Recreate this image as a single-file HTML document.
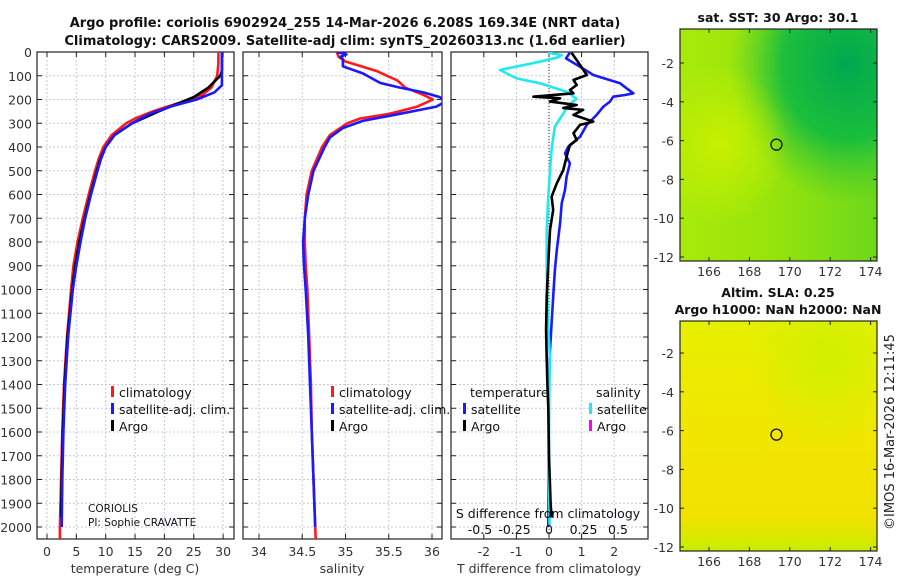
<!DOCTYPE html>
<html><head><meta charset="utf-8"><style>
body{margin:0;background:#fff;}
svg{display:block;font-family:"DejaVu Sans","Liberation Sans",sans-serif;}
</style></head><body>
<svg id="fig" width="900" height="580" viewBox="0 0 900 580" xmlns="http://www.w3.org/2000/svg">
<defs>
<linearGradient id="sstBase" x1="0" y1="0" x2="1" y2="0"><stop offset="0" stop-color="#a8ea0a"/><stop offset="0.45" stop-color="#98e40c"/><stop offset="1" stop-color="#6cd81a"/></linearGradient>
<radialGradient id="sstDark" cx="0.85" cy="0.15" r="0.6"><stop offset="0" stop-color="#00a850"/><stop offset="0.55" stop-color="#10bb40" stop-opacity="0.9"/><stop offset="1" stop-color="#40c830" stop-opacity="0"/></radialGradient>
<radialGradient id="sstYel" cx="0.2" cy="0.5" r="0.35"><stop offset="0" stop-color="#c8f000"/><stop offset="1" stop-color="#c8f000" stop-opacity="0"/></radialGradient>
<linearGradient id="slaBase" x1="0" y1="0" x2="0" y2="1"><stop offset="0" stop-color="#e6f000"/><stop offset="0.35" stop-color="#f0e800"/><stop offset="0.85" stop-color="#f2e200"/><stop offset="1" stop-color="#c8ec00"/></linearGradient>
<radialGradient id="slaGreen" cx="0.75" cy="0.15" r="0.4"><stop offset="0" stop-color="#d0f000"/><stop offset="1" stop-color="#d0f000" stop-opacity="0"/></radialGradient>
<clipPath id="cp1"><rect x="37" y="52" width="197" height="487"/></clipPath>
<clipPath id="cp2"><rect x="243" y="52" width="199" height="487"/></clipPath>
<clipPath id="cp3"><rect x="451" y="52" width="197" height="487"/></clipPath>
</defs>
<g font-weight="bold" font-size="13" text-anchor="middle" fill="#111">
<text x="345" y="27">Argo profile: coriolis 6902924_255 14-Mar-2026 6.208S 169.34E (NRT data)</text>
<text x="345" y="45">Climatology: CARS2009. Satellite-adj clim: synTS_20260313.nc (1.6d earlier)</text>
</g>
<g id="plots"></g>
</svg>
<script>
// ---------- data ----------
const tempClimDepth=[0,50,100,150,180,200,230,250,280,300,350,400,450,500,600,700,800,900,1000,1200,1400,1600,1800,2000,2050];
const tempClim=[29.2,29.2,29.0,28.0,26.5,24.5,20.5,18,15,13.5,11,9.6,8.8,8.2,7.1,6.1,5.2,4.5,4.1,3.4,2.9,2.6,2.4,2.2,2.2];
const tempSatDepth=[0,100,140,170,200,230,260,300,350,400,450,500,600,700,800,900,1000,1200,1400,1600,1800,2000];
const tempSat=[29.8,29.8,29.8,28.5,25.5,21,17.5,14.5,11.5,10,9.2,8.6,7.5,6.5,5.7,5.0,4.4,3.6,3.1,2.8,2.6,2.5];
const tempArgoDepth=[0,80,100,150,190,200,250,300,350,400,450,500,600,700,800,900,1000,1200,1400,1600,1800,1960];
const tempArgo=[29.8,29.8,29.5,27.5,25,24,19,14.5,11.5,10,9.1,8.5,7.4,6.4,5.5,4.8,4.3,3.5,3.0,2.7,2.5,2.4];
const salClimDepth=[0,20,40,80,120,150,180,200,230,260,280,300,350,400,500,600,700,800,900,1000,1200,1400,1600,1800,2000,2050];
const salClim=[34.90,34.92,35.0,35.36,35.6,35.69,35.9,36.01,35.83,35.51,35.17,35.02,34.82,34.73,34.61,34.55,34.53,34.53,34.54,34.56,34.58,34.60,34.61,34.63,34.65,34.655];
const salSatDepth=[0,10,20,30,60,90,130,150,170,190,210,230,260,290,320,360,400,500,600,700,800,900,1000,1200,1400,1600,1800,2000];
const salSat=[34.9,35.01,34.94,34.97,34.97,35.2,35.4,35.63,35.9,36.09,36.15,36.05,35.63,35.2,34.97,34.82,34.76,34.63,34.57,34.53,34.51,34.52,34.54,34.57,34.59,34.61,34.63,34.65];
const tdSatDepth=[3,27,62,97,132,153,174,181,188,209,230,265,307,357,399,427,469,525,581,637,721,834,918,1030,1142,1255,1400,1600,1800,2000];
const tdSat=[0.64,0.52,0.95,1.36,2.18,2.38,2.59,2.33,1.97,1.87,1.67,1.46,1.16,0.95,0.59,0.49,0.64,0.54,0.49,0.39,0.34,0.24,0.18,0.13,0.08,0.03,0.0,-0.01,-0.01,-0.02];
const sdSatDepth=[3,13,22,41,76,111,132,167,198,223,258,314,399,497,609,749,890,1030,1170,1288,1500,1700,1900,1990];
const sdSat=[-0.005,0.092,0.068,-0.065,-0.355,-0.234,-0.065,0.128,0.2,0.14,0.104,0.043,0.02,0.007,-0.005,-0.017,-0.017,-0.012,-0.005,0.007,0.0,0.0,0.002,0.004];
const tdArgoDepth=[3,34,97,118,139,160,174,188,195,209,223,236,244,265,293,307,342,371,392,441,497,553,609,665,749,890,1030,1170,1288,1400,1500,1700,1900,1960];
const tdArgo=[0.69,0.85,1.16,0.75,0.85,0.64,0.75,-0.48,0.34,0.03,0.85,0.44,1.05,0.75,1.36,0.95,0.75,0.85,0.64,0.54,0.44,0.24,0.08,0.13,0.03,-0.02,-0.07,-0.09,-0.07,-0.05,-0.02,0.0,0.05,0.08];
const depthTicks=[0,100,200,300,400,500,600,700,800,900,1000,1100,1200,1300,1400,1500,1600,1700,1800,1900,2000];
const tempTicks=[0,5,10,15,20,25,30];
const salTicks=[34,34.5,35,35.5,36];
const salTickLabels=["34","34.5","35","35.5","36"];
const tdTicks=[-2,-1,0,1,2];
const sdTicks=[-0.5,-0.25,0,0.25,0.5];
const sdTickLabels=["-0.5","-0.25","0","0.25","0.5"];
const lonTicks=[166,168,170,172,174];
const latTicks=[-2,-4,-6,-8,-10,-12];
const argoLon=169.34, argoLat=-6.208;

// ---------- axes ----------
const TOP=52,BOT=539;
const yD=d=>TOP+d*0.2375;
const xT=v=>47+v*5.87;
const xS=v=>259+(v-34)*86.5;
const xTD=v=>549+v*32.6;
const xSD=v=>549+v*138;
const mxLon=v=>709+(v-166)*20.2;
const myLat1=v=>63+(-2-v)*19.4;
const myLat2=v=>353+(-2-v)*19.4;

const NS="http://www.w3.org/2000/svg";
const root=document.getElementById('plots');
function el(tag,attrs,parent,txt){const e=document.createElementNS(NS,tag);for(const k in attrs)e.setAttribute(k,attrs[k]);if(txt!==undefined)e.textContent=txt;(parent||root).appendChild(e);return e;}

function panel(name,x0,x1,ticks,xf,labels,clip){
  const g=el('g',{});
  
  
  ticks.forEach(t=>{el('line',{x1:xf(t),x2:xf(t),y1:TOP,y2:BOT,stroke:'#c4c8e6','stroke-width':1,'stroke-dasharray':'2,2'},g);});
  depthTicks.forEach(d=>{el('line',{x1:x0,x2:x1,y1:yD(d),y2:yD(d),stroke:'#c4c8e6','stroke-width':1,'stroke-dasharray':'2,2'},g);
    el('line',{x1:x0,x2:x0+5,y1:yD(d),y2:yD(d),stroke:'#222'},g);el('line',{x1:x1-5,x2:x1,y1:yD(d),y2:yD(d),stroke:'#222'},g);});
  ticks.forEach((t,i)=>{el('line',{x1:xf(t),x2:xf(t),y1:BOT-5,y2:BOT,stroke:'#222'},g);el('line',{x1:xf(t),x2:xf(t),y1:TOP,y2:TOP+5,stroke:'#222'},g);
    const lb=el('text',{x:xf(t),y:556,'font-size':12.5,'text-anchor':'middle',fill:'#333'},g,labels?labels[i]:String(t));
    
    
  });
  el('rect',{x:x0,y:TOP,width:x1-x0,height:BOT-TOP,fill:'none',stroke:'#222','stroke-width':1.2},g);
  const lg=el('g',{'clip-path':'url(#'+clip+')'},g);
  return lg;
}
function line(g,xs,ds,xf,color,name,w){
  const p=el('polyline',{points:xs.map((v,i)=>xf(v).toFixed(1)+','+yD(ds[i]).toFixed(1)).join(' '),fill:'none',stroke:color,'stroke-width':w||2.6,'stroke-linejoin':'round'},g);
  
  
}
function legend(x,y,color,txt,name){
  const g=el('g',{});
  
  
  el('rect',{x:x,y:y-11,width:3,height:11,fill:color},g);
  el('text',{x:x+8,y:y,'font-size':12.5,fill:'#111'},g,txt);
}

depthTicks.forEach(d=>{const t=el('text',{x:32,y:yD(d)+5,'font-size':12.5,'text-anchor':'end',fill:'#333'},root,String(d));
  
  });

const g1=panel('temperature-panel',37,234,tempTicks,xT,null,'cp1');
line(g1,tempClim,tempClimDepth,xT,'#ff1a1a','temp-climatology-line');
line(g1,tempArgo,tempArgoDepth,xT,'#000','temp-argo-line');
line(g1,tempSat,tempSatDepth,xT,'#1a1aff','temp-satellite-line');
el('text',{x:135,y:573,'font-size':12.5,'text-anchor':'middle',fill:'#333'},root,'temperature (deg C)');
legend(111,397,'#ff1a1a','climatology','legend-climatology-temp');
legend(111,414,'#1a1aff','satellite-adj. clim.','legend-satellite-temp');
legend(111,431,'#000','Argo','legend-argo-temp');
el('text',{x:88,y:512,'font-size':10.5,fill:'#111'},root,'CORIOLIS');
el('text',{x:88,y:526,'font-size':10.5,fill:'#111'},root,'PI: Sophie CRAVATTE');

const g2=panel('salinity-panel',243,442,salTicks,xS,salTickLabels,'cp2');
line(g2,salClim,salClimDepth,xS,'#ff1a1a','sal-climatology-line');
line(g2,salSat,salSatDepth,xS,'#1a1aff','sal-satellite-line');
el('text',{x:342,y:573,'font-size':12.5,'text-anchor':'middle',fill:'#333'},root,'salinity');
legend(331,397,'#ff1a1a','climatology','legend-climatology-sal');
legend(331,414,'#1a1aff','satellite-adj. clim.','legend-satellite-sal');
legend(331,431,'#000','Argo','legend-argo-sal');

const g3=panel('difference-panel',451,648,tdTicks,xTD,null,'cp3');
el('line',{x1:xTD(0),x2:xTD(0),y1:TOP,y2:BOT,stroke:'#333','stroke-dasharray':'1,2'},g3);
line(g3,tdSat,tdSatDepth,xTD,'#1a1aff','tdiff-satellite-line');
line(g3,sdSat,sdSatDepth,xSD,'#22e8f0','sdiff-satellite-line');
line(g3,tdArgo,tdArgoDepth,xTD,'#000','tdiff-argo-line');
el('text',{x:549,y:573,'font-size':12.5,'text-anchor':'middle',fill:'#333'},root,'T difference from climatology');
el('text',{x:548,y:518,'font-size':12.5,'text-anchor':'middle',fill:'#111'},root,'S difference from climatology');
sdTicks.forEach((t,i)=>{const lb=el('text',{x:xSD(t),y:534,'font-size':12.5,'text-anchor':'middle',fill:'#111'},root,sdTickLabels[i]);
  
  });
el('text',{x:470,y:397,'font-size':12.5,fill:'#111'},root,'temperature');
el('text',{x:596,y:397,'font-size':12.5,fill:'#111'},root,'salinity');
legend(463,414,'#1a1aff','satellite','legend-tdiff-satellite');
legend(463,431,'#000','Argo','legend-tdiff-argo');
legend(589,414,'#22e8f0','satellite','legend-sdiff-satellite');
legend(589,431,'#ff00ff','Argo','legend-sdiff-argo');

function map(name,y0,y1,fillBase,fillOver,fillOver2,myLat,title){
  const g=el('g',{});
  
  
  el('rect',{x:680,y:y0,width:197,height:y1-y0,fill:fillBase},g);
  el('rect',{x:680,y:y0,width:197,height:y1-y0,fill:fillOver},g);
  el('rect',{x:680,y:y0,width:197,height:y1-y0,fill:fillOver2},g);
  el('circle',{cx:mxLon(argoLon),cy:myLat(argoLat),r:5.5,fill:'none',stroke:'#111','stroke-width':1.3},g);
  el('rect',{x:680,y:y0,width:197,height:y1-y0,fill:'none',stroke:'#222','stroke-width':1.2},g);
  lonTicks.forEach(t=>{el('line',{x1:mxLon(t),x2:mxLon(t),y1:y1-4,y2:y1,stroke:'#222'},g);el('line',{x1:mxLon(t),x2:mxLon(t),y1:y0,y2:y0+4,stroke:'#222'},g);
    el('text',{x:mxLon(t),y:y1+15,'font-size':12.5,'text-anchor':'middle',fill:'#333'},g,String(t));});
  latTicks.forEach(t=>{el('line',{x1:680,x2:684,y1:myLat(t),y2:myLat(t),stroke:'#222'},g);el('line',{x1:873,x2:877,y1:myLat(t),y2:myLat(t),stroke:'#222'},g);
    el('text',{x:674,y:myLat(t)+5,'font-size':12.5,'text-anchor':'end',fill:'#333'},g,String(t));});
  title.forEach((s,i)=>{el('text',{x:778,y:y0-(title.length-1-i)*17-7,'font-size':12.5,'font-weight':'bold','text-anchor':'middle',fill:'#111'},g,s);});
}
map('sst-map',29,261,'url(#sstBase)','url(#sstDark)','url(#sstYel)',myLat1,['sat. SST: 30 Argo: 30.1']);
map('sla-map',321,551,'url(#slaBase)','url(#slaGreen)','none',myLat2,['Altim. SLA: 0.25','Argo h1000: NaN h2000: NaN']);
const cr=el('text',{x:0,y:0,'font-size':13,'text-anchor':'middle',fill:'#222',transform:'translate(894,432) rotate(-90)'},root,'©IMOS 16-Mar-2026 12:11:45');


</script>
</body></html>
